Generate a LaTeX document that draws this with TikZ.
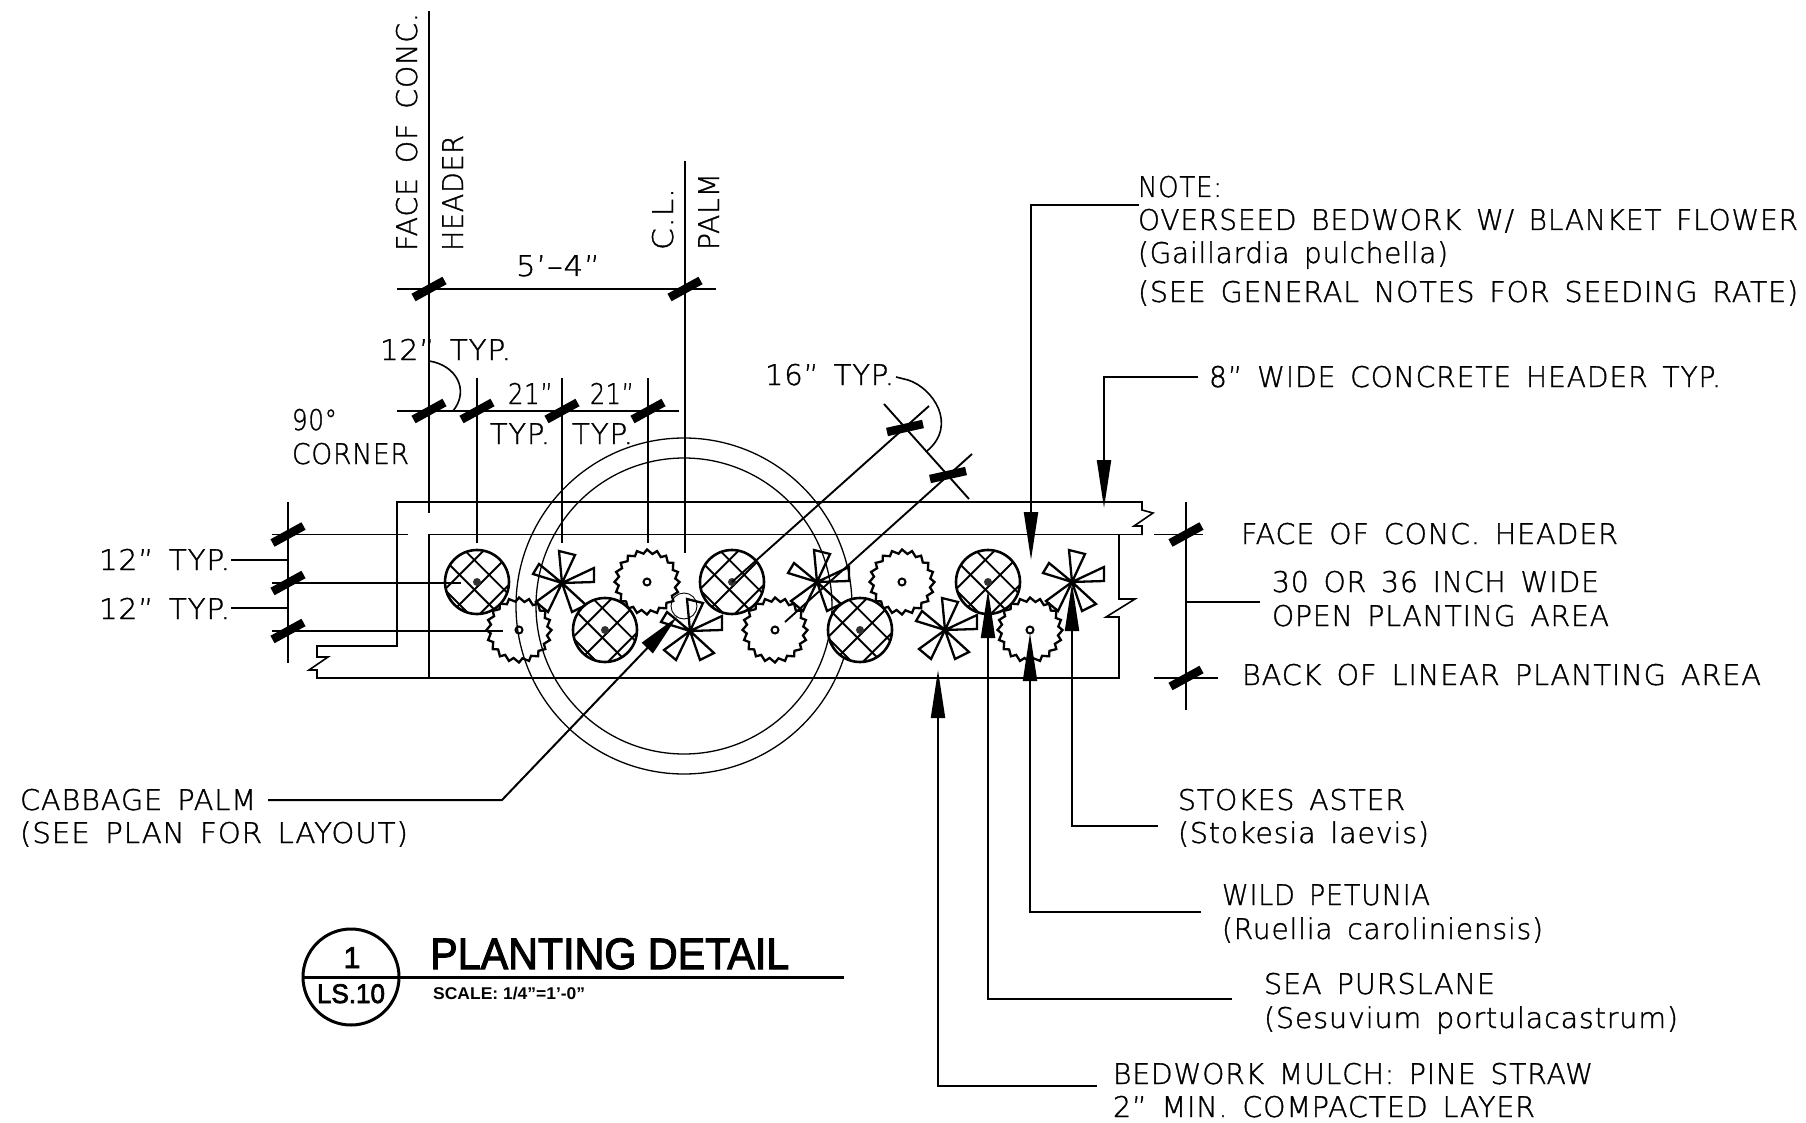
\documentclass[tikz,border=0pt]{standalone}
\usepackage{fontspec}
\usetikzlibrary{arrows.meta}
\setmainfont[FakeBold=1.2,WordSpace=1.5,LetterSpace=3]{DejaVu Sans ExtraLight}
\newfontfamily\titlef[FakeBold=2.5]{Liberation Sans}
\newfontfamily\titleb{Liberation Sans Bold}
\newcommand\ct[2]{\resizebox{#1pt}{\height}{#2}}
\tikzset{
  x=1pt,y=-1pt,
  txt/.style={anchor=base west,inner sep=0pt,outer sep=0pt,font=\fontsize{28.5}{28.5}\selectfont},
  vtxt/.style={txt,rotate=90},
  wall/.style={line width=1.6pt,line join=miter},
  dimline/.style={line width=1.9pt},
  leader/.style={line width=2pt},
  thinleader/.style={line width=1.6pt},
  arrowed/.style={leader,-{Triangle[length=48pt,width=14pt]}},
  tick/.style={line width=8.5pt},
  plantline/.style={line width=2.3pt,line join=miter},
  palm/.style={line width=1.3pt},
}
\begin{document}
\begin{tikzpicture}
\useasboundingbox (0,0) rectangle (1806,1123);
\fill[white] (0,0) rectangle (1806,1123);

% paving outline
\draw[wall] (1142,535) -- (1142,526) -- (1134,526) -- (1153,513) -- (1142,510) -- (1142,502) -- (397,502) -- (397,646) -- (317,646) -- (317,657) -- (328,657) -- (309,670) -- (317,670) -- (317,678) -- (1119,678) -- (1119,617) -- (1106,617) -- (1135,599) -- (1119,599) -- (1119,535);
\draw[wall] (429,678) -- (429,534.5) -- (1142,534.5);

% palm canopy
\node[draw,circle,palm,minimum size=336pt,inner sep=0pt] (canopy) at (684,606) {};
\node[draw,circle,palm,minimum size=296pt,inner sep=0pt] (crown) at (684,606) {};
\node[draw,circle,line width=0.9pt,minimum size=26pt,inner sep=0pt] (trunk) at (684,606) {};

% stokes aster
\foreach \cx/\cy in {562/583,690/631,817/582,945/630,1072/582}{
  \draw[plantline] (\cx,\cy) -- ++(-3,-32) -- ++(16,4) -- (\cx,\cy) -- ++(32,-15) -- ++(0,14) -- (\cx,\cy) -- ++(24,22) -- ++(-14,7) -- (\cx,\cy) -- ++(-14,29) -- ++(-12,-10) -- (\cx,\cy) -- ++(-29,-9) -- ++(6,-10) -- cycle;
}
% wild petunia
\foreach \cx/\cy in {647/582,519/630,775/630,902/582,1030/630}{
  \draw[plantline] plot[samples at={0,1,...,39},variable=\k]
    ({\cx+(mod(\k,2)==0?32.5:28.5)*cos(\k*9+mod(\k,2)*2)},{\cy+(mod(\k,2)==0?32.5:28.5)*sin(\k*9+mod(\k,2)*2)}) -- cycle;
  \draw[line width=2pt] (\cx,\cy) circle[radius=3.5];
}
% sea purslane
\foreach \cx/\cy in {477/582,605/630,732/582,860/630,988/582}{
  \fill[white] (\cx,\cy) circle[radius=32];
  \begin{scope}
    \clip (\cx,\cy) circle[radius=32];
    \foreach \o in {-17.5,3.5,24.5}{
      \draw[line width=1.9pt] ({\cx+\o*0.7071-40*0.7071},{\cy+\o*0.7071+40*0.7071}) -- ({\cx+\o*0.7071+40*0.7071},{\cy+\o*0.7071-40*0.7071});
    }
    \foreach \o in {-28.3,-7.3,13.7}{
      \draw[line width=1.9pt] ({\cx+\o*0.7071-40*0.7071},{\cy-\o*0.7071-40*0.7071}) -- ({\cx+\o*0.7071+40*0.7071},{\cy-\o*0.7071+40*0.7071});
    }
  \end{scope}
  \draw[line width=2.6pt] (\cx,\cy) circle[radius=32];
  \fill[black!80] (\cx,\cy) circle[radius=4];
}

% top dimensions
\coordinate (faceT) at (429,11); \coordinate (faceB) at (429,513);
\coordinate (palmT) at (685,161); \coordinate (palmB) at (685,553);
\draw[dimline] (faceT) -- (faceB);
\draw[dimline] (palmT) -- (palmB);
\draw[dimline] (397,289) -- (716,289);
\draw[dimline] (397,411) -- (679,411);
\draw[dimline] (477,378) -- (477,543);
\draw[dimline] (562,378) -- (562,543);
\draw[dimline] (648,378) -- (648,543);
\foreach \a/\b in {429/289,685/289,429/411,477/411,562/411,648/411}{
  \draw[tick] (\a-15.5,\b+8.5) -- (\a+15.5,\b-8.5);
}
% left dimensions
\draw[dimline] (288,502) -- (288,663);
\draw[dimline] (272,534.5) -- (408,534.5);
\draw[dimline] (272,583) -- (461,583);
\draw[dimline] (272,631) -- (503,631);
\coordinate (typA) at (231,560); \coordinate (typB) at (231,608);
\draw[thinleader] (typA) -- (288,560);
\draw[thinleader] (typB) -- (288,608);
\foreach \a/\b in {288/534.5,288/583,288/631}{
  \draw[tick] (\a-15.5,\b+8.5) -- (\a+15.5,\b-8.5);
}
% right dimensions
\draw[dimline] (1186,502) -- (1186,710);
\draw[dimline] (1154,534.5) -- (1203,534.5);
\draw[dimline] (1154,678) -- (1218,678);
\draw[dimline] (1186,602) -- (1260,602);
\foreach \a/\b in {1186/534.5,1186/678}{
  \draw[tick] (\a-15.5,\b+8.5) -- (\a+15.5,\b-8.5);
}
% diagonal 16 inch dimensions
\draw[dimline] (732,582) -- (929,406);
\draw[dimline] (785,622) -- (972,454);
\draw[dimline] (884,404) -- (969,499);
\draw[tick] (887,432) -- (923,424);
\draw[tick] (930,479) -- (966,471);
\draw[thinleader] (896,377) -- (908,380) .. controls (933,388) and (958,425) .. (927,451);
\draw[thinleader] (429,361) .. controls (456,365) and (470,390) .. (453,411);

% leaders with arrows
\coordinate (noteA) at (1139,205); \coordinate (noteT) at (1031,560);
\draw[arrowed] (noteA) -- (1031,205) -- (noteT);
\coordinate (hdrA) at (1198,377); \coordinate (hdrT) at (1104,508);
\draw[arrowed] (hdrA) -- (1104,377) -- (hdrT);
\coordinate (aster) at (1158,826); \coordinate (asterT) at (1072,583);
\draw[arrowed] (aster) -- (1072,826) -- (asterT);
\coordinate (pet) at (1201,912); \coordinate (petT) at (1030,633);
\draw[arrowed] (pet) -- (1030,912) -- (petT);
\coordinate (pur) at (1232,999); \coordinate (purT) at (988,590);
\draw[arrowed] (pur) -- (988,999) -- (purT);
\coordinate (mul) at (1097,1086); \coordinate (mulT) at (938,670);
\draw[arrowed] (mul) -- (938,1086) -- (mulT);
\coordinate (cab) at (268,800); \coordinate (cabT) at (677,617);
\draw[leader,-{Triangle[length=43pt,width=15pt]}] (cab) -- (502,800) -- (cabT);

% texts
\node[txt] (t1) at (1138,197) {\ct{84}{NOTE:}};
\node[txt] (t2) at (1138,230) {\ct{660}{OVERSEED BEDWORK W/ BLANKET FLOWER}};
\node[txt] (t3) at (1138,263) {\ct{310}{(Gaillardia pulchella)}};
\node[txt] (t4) at (1138,302) {\ct{660}{(SEE GENERAL NOTES FOR SEEDING RATE)}};
\node[txt] (t5) at (1209,387) {\ct{512}{8” WIDE CONCRETE HEADER TYP.}};
\node[txt] (t6) at (1241,544) {\ct{377}{FACE OF CONC. HEADER}};
\node[txt] (t7) at (1272,592) {\ct{327}{30 OR 36 INCH WIDE}};
\node[txt] (t8) at (1272,626) {\ct{337}{OPEN PLANTING AREA}};
\node[txt] (t9) at (1242,685) {\ct{519}{BACK OF LINEAR PLANTING AREA}};
\node[txt] (t10) at (1178,810) {\ct{227}{STOKES ASTER}};
\node[txt] (t11) at (1178,843) {\ct{251}{(Stokesia laevis)}};
\node[txt] (t12) at (1222,905) {\ct{208}{WILD PETUNIA}};
\node[txt] (t13) at (1222,939) {\ct{321}{(Ruellia caroliniensis)}};
\node[txt] (t14) at (1264,994) {\ct{231}{SEA PURSLANE}};
\node[txt] (t15) at (1264,1028) {\ct{414}{(Sesuvium portulacastrum)}};
\node[txt] (t16) at (1113,1084) {\ct{480}{BEDWORK MULCH: PINE STRAW}};
\node[txt] (t17) at (1113,1117) {\ct{422}{2” MIN. COMPACTED LAYER}};
\node[txt] (t18) at (20,810) {\ct{236}{CABBAGE PALM}};
\node[txt] (t19) at (20,843) {\ct{388}{(SEE PLAN FOR LAYOUT)}};
\node[txt] (t20) at (99,570) {\ct{131}{12” TYP.}};
\node[txt] (t21) at (99,619) {\ct{131}{12” TYP.}};
\node[txt] (t22) at (292,430) {\ct{45}{90°}};
\node[txt] (t23) at (292,464) {\ct{117}{CORNER}};
\node[txt] (t24) at (508,404) {\ct{45}{21”}};
\node[txt] (t25) at (590,404) {\ct{44}{21”}};
\node[txt] (t26) at (490,444) {\ct{60}{TYP.}};
\node[txt] (t27) at (572,444) {\ct{61}{TYP.}};
\node[txt] (t28) at (380,360) {\ct{131}{12” TYP.}};
\node[txt] (t29) at (516,276) {\ct{84}{5’–4”}};
\node[txt] (t30) at (765,385) {\ct{129}{16” TYP.}};
\node[vtxt] (t31) at (417,251) {\ct{238}{FACE OF CONC.}};
\node[vtxt] (t32) at (463,251) {\ct{116}{HEADER}};
\node[vtxt] (t33) at (673,250) {\ct{62}{C.L.}};
\node[vtxt] (t34) at (719,250) {\ct{77}{PALM}};

% title block
\node[draw,circle,line width=3pt,minimum size=96pt,inner sep=0pt] (bub) at (351,977) {};
\draw[line width=3pt] (bub.west) -- (844,977);
\node[anchor=base,inner sep=0pt,font=\titlef\fontsize{30}{30}\selectfont] (sheetno) at (352,968) {1};
\node[anchor=base,inner sep=0pt,font=\titlef\fontsize{27}{27}\selectfont] (sheet) at (351,1003) {\ct{68}{LS.10}};
\node[anchor=base west,inner sep=0pt,font=\titlef\fontsize{44}{44}\selectfont] (title) at (430,969) {\ct{359}{PLANTING DETAIL}};
\node[anchor=base west,inner sep=0pt,font=\titleb\fontsize{17}{17}\selectfont] (scale) at (433,999) {\ct{152}{SCALE: 1/4”=1’-0”}};
\end{tikzpicture}
\end{document}
